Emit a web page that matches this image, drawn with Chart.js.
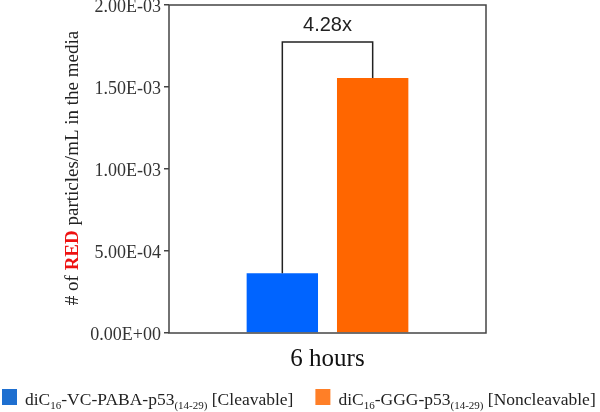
<!DOCTYPE html>
<html>
<head>
<meta charset="utf-8">
<script src="https://cdn.jsdelivr.net/npm/chart.js@4"></script>
<style>
  html, body { margin: 0; padding: 0; background: #fff; }
  #wrap { width: 600px; height: 412px; }
</style>
</head>
<body>
<div id="wrap"><canvas id="chart" width="600" height="412"></canvas></div>
<script>
// data
const categories = ['6 hours'];
const cleavableValues = [3.64e-4];
const noncleavableValues = [1.555e-3];
const yTickLabels = ['0.00E+00', '5.00E-04', '1.00E-03', '1.50E-03', '2.00E-03'];
const foldLabel = '4.28x';
const bracketLevel = 1.775e-3;

// legend text pieces: [text, subscript?]
const cleavableName = [['diC', false], ['16', true], ['-VC-PABA-p53', false], ['(14-29)', true], [' [Cleavable]', false]];
const noncleavableName = [['diC', false], ['16', true], ['-GGG-p53', false], ['(14-29)', true], [' [Noncleavable]', false]];

const serif = '"Liberation Serif", "Times New Roman", serif';
const sans = '"Liberation Sans", Arial, sans-serif';

// frame round the plot area, bracket with fold change, y title, legend
const extras = {
    id: 'extras',
    afterDraw(chart) {
        const ctx = chart.ctx;
        const area = chart.chartArea;
        const y = chart.scales.y;

        ctx.save();
        ctx.strokeStyle = '#444';
        ctx.lineWidth = 1.5;
        ctx.strokeRect(area.left, area.top, area.right - area.left, area.bottom - area.top);

        // bracket between the two bars
        const b1 = chart.getDatasetMeta(0).data[0];
        const b2 = chart.getDatasetMeta(1).data[0];
        const top = y.getPixelForValue(bracketLevel);
        ctx.strokeStyle = '#222';
        ctx.lineWidth = 1.5;
        ctx.beginPath();
        ctx.moveTo(b1.x, b1.y);
        ctx.lineTo(b1.x, top);
        ctx.lineTo(b2.x, top);
        ctx.lineTo(b2.x, b2.y);
        ctx.stroke();
        ctx.fillStyle = '#222';
        ctx.font = '20px ' + sans;
        ctx.textAlign = 'center';
        ctx.textBaseline = 'bottom';
        ctx.fillText(foldLabel, (b1.x + b2.x) / 2, top - 6);

        // y axis title with bold red RED
        const parts = [
            ['# of ', 'normal', '#222'],
            ['RED', 'bold', '#ee1111'],
            [' particles/mL in the media', 'normal', '#222']
        ];
        ctx.translate(73, 168);
        ctx.rotate(-Math.PI / 2);
        let total = 0;
        parts.forEach(p => { ctx.font = p[1] + ' 19px ' + serif; total += ctx.measureText(p[0]).width; });
        let x = -total / 2;
        ctx.textAlign = 'left';
        ctx.textBaseline = 'middle';
        parts.forEach(p => {
            ctx.font = p[1] + ' 19px ' + serif;
            ctx.fillStyle = p[2];
            ctx.fillText(p[0], x, 0);
            x += ctx.measureText(p[0]).width;
        });
        ctx.restore();

        // legend
        ctx.save();
        const entries = [
            [cleavableName, '#1e6fd0'],
            [noncleavableName, '#ff7f27']
        ];
        let lx = 2;
        const base = 405;
        ctx.textBaseline = 'alphabetic';
        ctx.textAlign = 'left';
        entries.forEach(e => {
            ctx.fillStyle = e[1];
            ctx.fillRect(lx, 389, 15, 16);
            lx += 23;
            ctx.fillStyle = '#222';
            e[0].forEach(p => {
                if (p[1]) {
                    ctx.font = '11px ' + serif;
                    ctx.fillText(p[0], lx, base + 4);
                } else {
                    ctx.font = '17.5px ' + serif;
                    ctx.fillText(p[0], lx, base);
                }
                lx += ctx.measureText(p[0]).width;
            });
            lx += 22;
        });
        ctx.restore();
    }
};

new Chart(document.getElementById('chart'), {
    type: 'bar',
    data: {
        labels: categories,
        datasets: [{
            label: 'diC16-VC-PABA-p53(14-29) [Cleavable]',
            data: cleavableValues,
            backgroundColor: '#0064ff',
            categoryPercentage: 0.57,
            barPercentage: 0.79
        }, {
            label: 'diC16-GGG-p53(14-29) [Noncleavable]',
            data: noncleavableValues,
            backgroundColor: '#ff6600',
            categoryPercentage: 0.57,
            barPercentage: 0.79
        }]
    },
    options: {
        responsive: false,
        animation: false,
        layout: { padding: { top: 5, right: 114, left: 0, bottom: 0 } },
        plugins: {
            legend: { display: false },
            tooltip: { enabled: false }
        },
        scales: {
            x: {
                grid: { display: false },
                border: { display: false },
                ticks: { color: '#111', font: { family: serif, size: 25 }, padding: 3 },
                afterFit: s => { s.height = 79; s.paddingLeft = 0; s.paddingRight = 0; }
            },
            y: {
                min: 0,
                max: 0.002,
                grid: { drawOnChartArea: false, drawTicks: true, tickLength: 5, color: '#444', lineWidth: 1.5 },
                border: { display: false },
                ticks: {
                    stepSize: 0.0005,
                    color: '#333',
                    font: { family: serif, size: 18 },
                    padding: 3,
                    labelOffset: 2,
                    callback: (v, i) => yTickLabels[i]
                },
                afterFit: s => { s.width = 169; s.paddingTop = 0; s.paddingBottom = 0; }
            }
        }
    },
    plugins: [extras]
});
</script>
</body>
</html>
